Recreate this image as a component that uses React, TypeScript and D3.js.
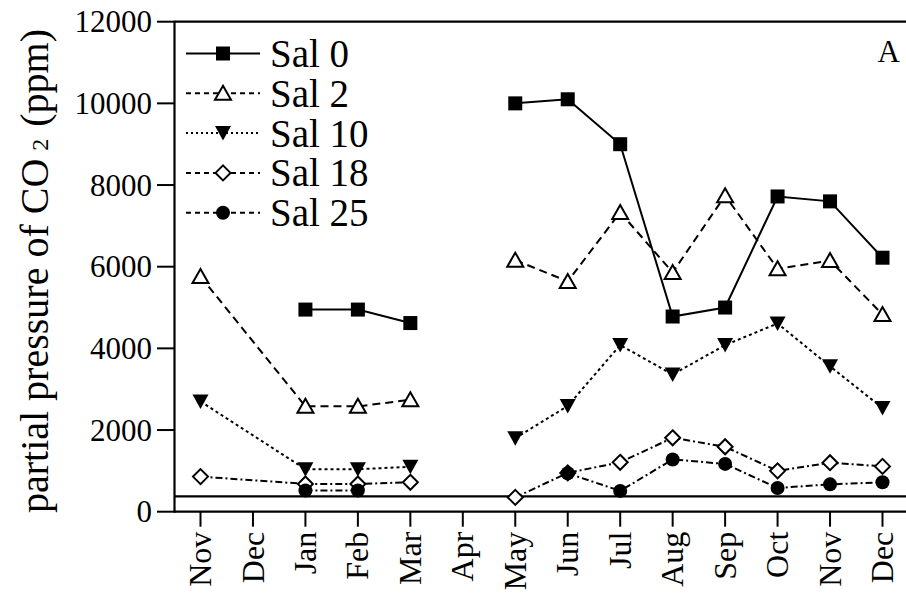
import React from "react";
import * as d3 from "d3";

const months = ["Nov", "Dec", "Jan", "Feb", "Mar", "Apr", "May", "Jun", "Jul", "Aug", "Sep", "Oct", "Nov", "Dec"];
const breakIndex = 5; // Apr: lines are not drawn across it
const yTicks = [0, 2000, 4000, 6000, 8000, 10000, 12000];
const atmosphericCO2 = 375;

const sal0 = [null, null, 4950, 4950, 4620, null, 10000, 10100, 9000, 4780, 5000, 7720, 7600, 6220];
const sal2 = [5760, null, 2580, 2580, 2740, null, 6160, 5640, 7330, 5860, 7740, 5950, 6150, 4830];
const sal10 = [2700, null, 1040, 1040, 1100, null, 1800, 2590, 4080, 3360, 4080, 4610, 3560, 2540];
const sal18 = [860, null, 680, 680, 720, null, 350, 950, 1210, 1810, 1590, 1000, 1200, 1110];
const sal25 = [null, null, 520, 520, null, null, null, 940, 510, 1280, 1170, 580, 670, 720];

const seriesNames = ["Sal 0", "Sal 2", "Sal 10", "Sal 18", "Sal 25"];
const seriesValues = [sal0, sal2, sal10, sal18, sal25];
const seriesMarkers = ["square", "triUp", "triDown", "diamond", "circle"];
const seriesDash = ["none", "8,5", "3,3", "7,3,2,3", "7,3,2,3"];
const legendDash = ["none", "5,4", "2,3", "5,4", "5,4"];

const FONT = '"Liberation Serif", "Times New Roman", Times, "DejaVu Serif", serif';
const W = 906;
const H = 595;
const left = 174.5;
const right = 906;
const top = 21.7;
const bottom = 511.7;

const x = d3.scaleLinear().domain([0, months.length - 1]).range([200.5, 882.5]);
const y = d3.scaleLinear().domain([0, 12000]).range([bottom, top]);

function Marker({ type, cx, cy }: { type: string; cx: number; cy: number }) {
  const sw = 2;
  if (type === "square") return <rect x={cx - 7} y={cy - 7} width={14} height={14} fill="#000" />;
  if (type === "circle") return <circle cx={cx} cy={cy} r={7} fill="#000" />;
  if (type === "triUp")
    return (
      <path
        d={`M${cx},${cy - 7.5}L${cx + 8},${cy + 6.5}L${cx - 8},${cy + 6.5}Z`}
        fill="#fff"
        stroke="#000"
        strokeWidth={sw}
        strokeLinejoin="miter"
      />
    );
  if (type === "triDown")
    return <path d={`M${cx - 8},${cy - 7}L${cx + 8},${cy - 7}L${cx},${cy + 7.5}Z`} fill="#000" />;
  return (
    <path
      d={`M${cx},${cy - 7.5}L${cx + 7.5},${cy}L${cx},${cy + 7.5}L${cx - 7.5},${cy}Z`}
      fill="#fff"
      stroke="#000"
      strokeWidth={sw}
    />
  );
}

export default function App() {
  const line = d3
    .line<[number, number]>()
    .x((d) => x(d[0]))
    .y((d) => y(d[1]));

  const segmentsFor = (vals: (number | null)[]) => {
    const segA: [number, number][] = [];
    const segB: [number, number][] = [];
    vals.forEach((v, i) => {
      if (v == null) return;
      (i < breakIndex ? segA : segB).push([i, v]);
    });
    return [segA, segB].filter((s) => s.length > 1);
  };

  const ts = { fontFamily: FONT };

  return (
    <svg
      width={W}
      height={H}
      style={{ position: "absolute", left: 0, top: 0, background: "#fff", fontFamily: FONT }}
    >
      <rect width={W} height={H} fill="#fff" />
      {/* frame */}
      <line x1={left} x2={right} y1={top} y2={top} stroke="#000" strokeWidth={2.2} />
      <line x1={left} x2={left} y1={top - 1} y2={bottom + 1} stroke="#000" strokeWidth={2.2} />
      <line x1={left} x2={right} y1={bottom} y2={bottom} stroke="#000" strokeWidth={2.2} />
      <line
        x1={left}
        x2={right}
        y1={y(atmosphericCO2)}
        y2={y(atmosphericCO2)}
        stroke="#000"
        strokeWidth={2.2}
      />

      {/* y ticks */}
      {yTicks.map((t) => (
        <g key={t}>
          <line x1={157} x2={left} y1={y(t)} y2={y(t)} stroke="#000" strokeWidth={2} />
          <text x={152} y={y(t)} dy="0.34em" textAnchor="end" fontSize={31} style={ts}>
            {t}
          </text>
        </g>
      ))}

      {/* x ticks */}
      {months.map((m, i) => (
        <g key={i}>
          <line x1={x(i)} x2={x(i)} y1={bottom} y2={bottom + 15} stroke="#000" strokeWidth={2} />
          <text
            transform={`translate(${x(i)},${bottom + 20}) rotate(-90)`}
            dy="0.33em"
            textAnchor="end"
            fontSize={32}
            style={ts}
          >
            {m}
          </text>
        </g>
      ))}

      {/* y label */}
      <text
        transform={`translate(48,271) rotate(-90)`}
        textAnchor="middle"
        fontSize={40}
        style={ts}
      >
        partial pressure of CO
        <tspan fontSize={24} dx={8}>
          2
        </tspan>
        <tspan dx={2}> (ppm)</tspan>
      </text>

      {/* panel letter */}
      <text x={900} y={62} textAnchor="end" fontSize={31} style={ts}>
        A
      </text>

      {/* series */}
      {seriesValues.map((vals, si) => (
        <g key={si}>
          {segmentsFor(vals).map((seg, k) => (
            <path
              key={k}
              d={line(seg) || ""}
              fill="none"
              stroke="#000"
              strokeWidth={2}
              strokeDasharray={seriesDash[si]}
            />
          ))}
          {vals.map((v, i) =>
            v == null ? null : <Marker key={i} type={seriesMarkers[si]} cx={x(i)} cy={y(v)} />
          )}
        </g>
      ))}

      {/* legend */}
      {seriesNames.map((name, si) => {
        const ly = 53.5 + si * 39.8;
        return (
          <g key={name}>
            <line
              x1={186}
              x2={260}
              y1={ly}
              y2={ly}
              stroke="#000"
              strokeWidth={2}
              strokeDasharray={legendDash[si]}
            />
            <Marker type={seriesMarkers[si]} cx={223} cy={ly} />
            <text x={270} y={ly + 13.5} fontSize={39} style={ts}>
              {name}
            </text>
          </g>
        );
      })}
    </svg>
  );
}
